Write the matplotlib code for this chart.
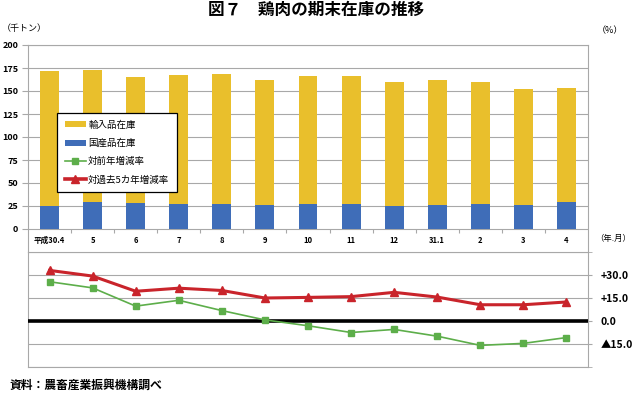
import matplotlib
matplotlib.use("Agg")
import matplotlib.pyplot as plt
from matplotlib.patches import Patch
from matplotlib.lines import Line2D

plt.rcParams['font.family'] = ['Noto Sans CJK JP', 'DejaVu Sans']

# data
months = ['平成30.4', '5', '6', '7', '8', '9', '10', '11', '12', '31.1', '2', '3', '4']
domestic = [25.3, 29.6, 28.4, 27.2, 27.3, 26.2, 27.4, 27.5, 25.4, 26.3, 27.4, 26.2, 29.4]
imported = [145.9, 143.5, 137.0, 140.4, 141.4, 136.0, 138.9, 138.7, 133.9, 135.8, 131.9, 125.9, 124.2]
yoy = [25.6, 21.6, 9.7, 13.5, 6.8, 0.7, -3.1, -7.5, -5.5, -9.9, -15.9, -14.6, -10.8]
vs5y = [33.0, 29.3, 19.4, 21.4, 19.9, 15.0, 15.4, 15.9, 18.7, 15.6, 10.6, 10.6, 12.4]
pct_ticks = [30, 15, 0, -15]
pct_labels = ['+30.0', '+15.0', '0.0', '▲15.0']

YELLOW = '#E9BF2C'
BLUE = '#3F6DB8'
GREEN = '#5DAE4A'
RED = '#C9242B'
GRID = '#A8A8A8'

W, H = 633, 393
fig = plt.figure(figsize=(W / 100, H / 100), dpi=100)
left, right = 28 / W, 588 / W
ax1 = fig.add_axes([left, 1 - 252 / H, right - left, (252 - 45) / H])
ax2 = fig.add_axes([left, 1 - 367 / H, right - left, (367 - 252) / H])

x = list(range(len(months)))

# upper panel: stacked stock bars
ax1.bar(x, domestic, width=0.44, color=BLUE, zorder=3)
ax1.bar(x, imported, width=0.44, bottom=domestic, color=YELLOW, zorder=3)
ax1.set_xlim(-0.5, len(months) - 0.5)
ax1.set_ylim(-25, 200)
ax1.set_yticks(range(0, 201, 25))
ax1.yaxis.grid(True, color=GRID, lw=0.8, zorder=0)
ax1.set_xticks([])
ax1.tick_params(axis='y', length=4, color=GRID, pad=3, labelsize=6.5)
for lab in ax1.get_yticklabels():
    lab.set_fontweight('bold')
ax1.spines['bottom'].set_visible(False)
for s in ['left', 'right', 'top']:
    ax1.spines[s].set_color(GRID)
    ax1.spines[s].set_linewidth(0.8)
ax1.vlines([i + 0.5 for i in range(len(months) - 1)], -4, 0, color=GRID, lw=0.8)
for i, m in enumerate(months):
    ax1.text(i, -12.5, m, ha='center', va='center', fontsize=5.5, fontweight='bold')

# lower panel: growth rates
ax2.plot(x, yoy, color=GREEN, lw=1.2, marker='s', ms=4.5, zorder=4)
ax2.plot(x, vs5y, color=RED, lw=2.2, marker='^', ms=5.5, zorder=5)
ax2.axhline(0, color='black', lw=2.6, zorder=3)
ax2.set_xlim(-0.5, len(months) - 0.5)
ax2.set_ylim(-30, 45)
ax2.set_xticks([])
ax2.yaxis.tick_right()
ax2.set_yticks(pct_ticks, labels=pct_labels)
ax2.set_yticks([-30, 45], minor=True)
ax2.yaxis.grid(True, which='both', color=GRID, lw=0.8, zorder=0)
ax2.tick_params(axis='y', which='both', length=3, color=GRID, pad=6, labelsize=7.5)
for lab in ax2.get_yticklabels():
    lab.set_fontweight('bold')
for s in ax2.spines.values():
    s.set_color(GRID)
    s.set_linewidth(0.8)

# legend
handles = [
    Patch(facecolor=YELLOW, edgecolor='none'),
    Patch(facecolor=BLUE, edgecolor='none'),
    Line2D([], [], color=GREEN, lw=1.2, marker='s', ms=4.5),
    Line2D([], [], color=RED, lw=2.6, marker='^', ms=6),
]
names = ['輸入品在庫', '国産品在庫', '対前年増減率', '対過去5カ年増減率']
leg = fig.legend(handles, names, loc='upper left', bbox_to_anchor=(57 / W, 1 - 113 / H),
                 fontsize=6.8, frameon=True, fancybox=False, framealpha=1, edgecolor='black',
                 handlelength=2.3, handleheight=0.6, labelspacing=0.95, borderpad=0.8,
                 handletextpad=0.2, borderaxespad=0)
leg.get_frame().set_linewidth(0.9)

# texts
fig.text(0.5, 1 - 10 / H, '図７　鶏肉の期末在庫の推移', ha='center', va='center',
         fontsize=12, fontweight='bold')
fig.text(2 / W, 1 - 28 / H, '（千トン）', ha='left', va='center', fontsize=6.5)
fig.text(597 / W, 1 - 31 / H, '（%）', ha='left', va='center', fontsize=6.5)
fig.text(595 / W, 1 - 238 / H, '（年.月）', ha='left', va='center', fontsize=6)
fig.text(10 / W, 1 - 385 / H, '資料：農畜産業振興機構調べ', ha='left', va='center',
         fontsize=8.5, fontweight='bold')

fig.savefig('out.png', dpi=100)
plt.close('all')
